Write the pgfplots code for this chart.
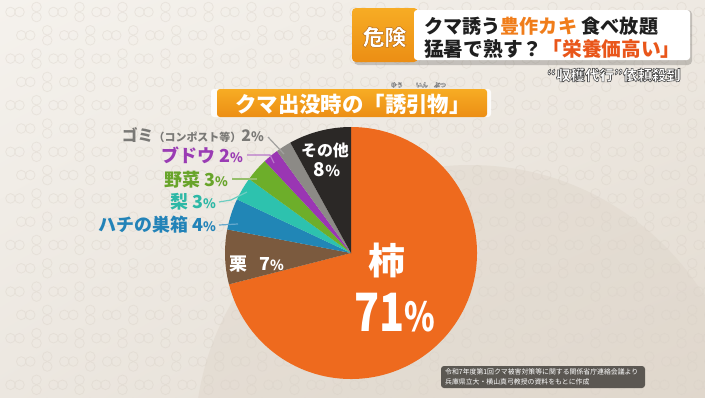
\documentclass[border=0pt]{standalone}
\usepackage{fontspec}
\setmainfont{Noto Sans CJK JP}
\usepackage{pgfplots}
\usepackage{pgfplotstable}
\pgfplotsset{compat=1.18}
\usetikzlibrary{shadings}

\definecolor{cKaki}{HTML}{EE6A1E}
\definecolor{cKuri}{HTML}{7B5A3E}
\definecolor{cHachi}{HTML}{2186B6}
\definecolor{cNashi}{HTML}{2DC2AE}
\definecolor{cYasai}{HTML}{6DAE2A}
\definecolor{cBudou}{HTML}{9A36B3}
\definecolor{cGomi}{HTML}{8C8A86}
\definecolor{cSonota}{HTML}{2B2826}
\definecolor{tGomi}{HTML}{7A7976}
\definecolor{tBudou}{HTML}{9A3CB4}
\definecolor{tYasai}{HTML}{68A42A}
\definecolor{tNashi}{HTML}{2DB8A6}
\definecolor{tHachi}{HTML}{2383B8}
\definecolor{hOrange}{HTML}{F07D1A}
\definecolor{hRed}{HTML}{E9561A}
\definecolor{bgPat}{HTML}{D8D0C6}
\definecolor{boxTop}{HTML}{F7AC24}
\definecolor{boxBot}{HTML}{EC8E14}
\definecolor{bgUL}{HTML}{F5F2ED}
\definecolor{bgUR}{HTML}{EEE9E2}
\definecolor{bgLL}{HTML}{ECE7E0}
\definecolor{bgLR}{HTML}{E2DACF}
\definecolor{bgDisc}{HTML}{DED5CA}
\definecolor{srcBox}{HTML}{504D48}

\pgfplotstableread[col sep=comma]{
name,value,color
柿,71,cKaki
栗,7,cKuri
ハチの巣箱,4,cHachi
梨,3,cNashi
野菜,3,cYasai
ブドウ,2,cBudou
ゴミ,2,cGomi
その他,8,cSonota
}\piedata

\newcommand{\pct}[1]{{\fontsize{#1}{#1}\selectfont\%}}
\newcommand{\fs}[1]{\fontsize{#1}{#1}\selectfont\bfseries}
% white text stroked with an outline (text render mode 2); #2 is a PDF stroke colour
\newcommand{\outl}[3]{\special{pdf:literal direct 2 Tr #1 w #2}#3\special{pdf:literal direct 0 Tr}}

\begin{document}
\begin{tikzpicture}[x=1bp,y=-1bp]
% background
\begin{scope}
\clip (0,0) rectangle (705,397);
\shade[upper left=bgUL, upper right=bgUR, lower left=bgLL, lower right=bgLR]
  (0,0) rectangle (705,397);
\fill[bgDisc, opacity=0.45] (470,440) circle[radius=275bp];
\foreach \r in {0,...,17}{
  \foreach \k in {0,...,34}{
    \pgfmathsetmacro\px{15+21.5*\k+10.75*mod(\r,2)}
    \pgfmathsetmacro\py{12+23.3*\r}
    \ifodd\k
      \draw[bgPat, line width=0.8bp, opacity=0.38] (\px,\py-5) circle[radius=4.8bp] (\px,\py+5) circle[radius=4.8bp];
    \else
      \draw[bgPat, line width=0.8bp, opacity=0.38] (\px-4.5,\py) circle[radius=4.8bp] (\px+4.5,\py) circle[radius=4.8bp];
    \fi
  }
}
\end{scope}

% pie chart through the axis
\begin{axis}[at={(0,397)}, anchor=south west, width=705bp, height=397bp, scale only axis,
  hide axis, xmin=0, xmax=705, ymin=0, ymax=397, y dir=reverse, clip=false]
\pgfplotsextra{
  \xdef\cum{0}
  \foreach \i in {0,...,7}{
    \pgfplotstablegetelem{\i}{value}\of\piedata \let\pv\pgfplotsretval
    \pgfplotstablegetelem{\i}{color}\of\piedata \let\pc\pgfplotsretval
    \pgfmathsetmacro\sa{90-3.6*\cum}
    \pgfmathsetmacro\ea{90-3.6*(\cum+\pv)}
    \fill[fill=\pc] (axis cs:351,253) -- ++(\sa:126bp) arc[start angle=\sa,end angle=\ea,radius=126bp] -- cycle;
    \pgfmathsetmacro\cn{\cum+\pv}\xdef\cum{\cn}
  }
}
\end{axis}

% slice labels
\node[text=white, inner sep=0, font=\fs{16}] at (325,150) {その他};
\node[text=white, inner sep=0, font=\fs{19}] at (327,170) {8\pct{15}};
\node[text=white, inner sep=0, font=\fs{18}, anchor=west] at (229,264) {栗\hspace{12bp}7\pct{14}};
\node[text=white, inner sep=0, font=\fs{37}] at (387,260) {柿};
\node[text=white, inner sep=0, font=\fs{53}] at (395,313) {\scalebox{0.78}[1]{71\pct{40}}};

% outside labels
\node[text=tGomi, inner sep=0, font=\fs{16}, anchor=east] at (264,135) {ゴミ{\fs{11}（コンポスト等）}2\pct{13}};
\node[text=tBudou, inner sep=0, font=\fs{18}, anchor=east] at (243,155) {ブドウ 2\pct{13}};
\node[text=tYasai, inner sep=0, font=\fs{18}, anchor=east] at (228,180) {野菜 3\pct{13}};
\node[text=tNashi, inner sep=0, font=\fs{18}, anchor=east] at (216,202) {梨 3\pct{13}};
\node[text=tHachi, inner sep=0, font=\fs{18}, anchor=east] at (216,225) {ハチの巣箱 4\pct{13}};
\draw[tGomi!70!white, line width=1.2bp] (268,137) -- (284,154);
\draw[tBudou!70!white, line width=1.2bp] (247,155) -- (270,155) -- (274,163);
\draw[tYasai!70!white, line width=1.2bp] (232,179) -- (257,179);
\draw[tNashi!70!white, line width=1.2bp] (219,202) -- (231,200) -- (247,192);
\draw[tHachi!70!white, line width=1.2bp] (219,225) -- (238,224);

% chart title banner
\fill[white, opacity=0.85, rounded corners=3bp] (211,89) rectangle (491,117);
\shade[top color=boxTop, bottom color=boxBot, rounded corners=3bp] (217,89) rectangle (487,117);
\node[text=white, inner sep=0, font=\fs{21.5}] at (353,104) {クマ出没時の「誘引物」};
\node[text=white, inner sep=0, font=\fs{6}] at (397,85) {\outl{0.4}{0.5 G}{ゆう}};
\node[text=white, inner sep=0, font=\fs{6}] at (422,85) {\outl{0.4}{0.5 G}{いん}};
\node[text=white, inner sep=0, font=\fs{6}] at (440,85) {\outl{0.4}{0.5 G}{ぶつ}};

% headline box
\fill[black, opacity=0.18, rounded corners=4bp] (354,10) rectangle (692,65);
\shade[top color=boxTop, bottom color=boxBot, rounded corners=4bp] (352,8) rectangle (418,62);
\fill[white, rounded corners=3bp] (414,10) rectangle (690,60);
\node[text=white, inner sep=0, font=\fs{22}] at (384.5,37) {\outl{0.5}{0.72 0.42 0.08 RG}{危険}};
\node[text=black!88, inner sep=0, font=\fs{19.2}, anchor=west] at (424,26) {クマ誘う\textcolor{hOrange}{豊作カキ} 食べ放題};
\node[text=black!88, inner sep=0, font=\fs{19.8}, anchor=west] at (424,49) {猛暑で熟す？\textcolor{hRed}{「栄養価高い」}};

% subtitle, white with dark outline
\node[text=white, inner sep=0, font=\fs{14.5}, anchor=east] at (681,75) {\outl{0.6}{0.3 G}{“収穫代行”依頼殺到}};

% source box
\fill[srcBox, opacity=0.92, rounded corners=3bp] (441,366) rectangle (645,388);
\node[text=white, inner sep=0, font=\fontsize{6.9}{6.9}\selectfont, anchor=west] at (445,372) {令和7年度第1回クマ被害対策等に関する関係省庁連絡会議より};
\node[text=white, inner sep=0, font=\fontsize{6.9}{6.9}\selectfont, anchor=west] at (445,382) {兵庫県立大・横山真弓教授の資料をもとに作成};

\pgfresetboundingbox
\useasboundingbox (0,0) rectangle (705,397);
\end{tikzpicture}
\end{document}
